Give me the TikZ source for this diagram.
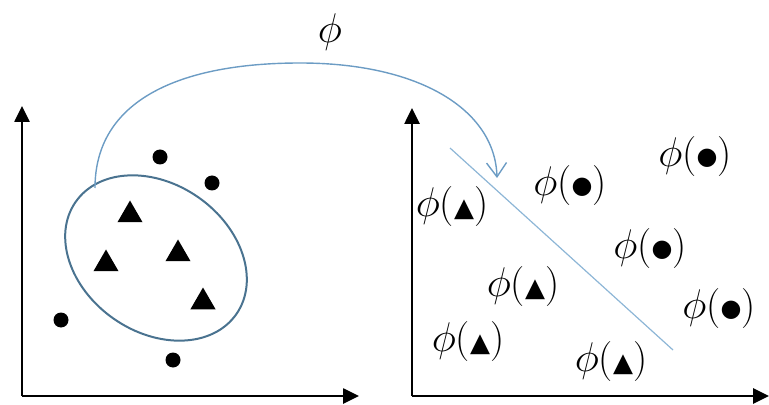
\documentclass[tikz,border=0pt]{standalone}
\usepackage{fontspec}
\newfontfamily\symfont{DejaVu Sans}
\usetikzlibrary{shapes.geometric, arrows.meta}
\definecolor{ringblue}{HTML}{4A7390}
\definecolor{mapblue}{HTML}{6C9CC4}
\definecolor{sepblue}{HTML}{8DB6D6}
\newcommand{\phitri}{$\phi$({\symfont\fontsize{13}{13}\selectfont ▲})}
\newcommand{\phidot}{$\phi$(\raisebox{1.2pt}{\symfont\fontsize{12}{12}\selectfont ●})}
\tikzset{
	axisline/.style={
			line width=1.3pt,
			-{Triangle[length=8pt,width=7.5pt]}
		},
	ptdot/.style={
			circle,
			fill=black,
			minimum size=7.5pt,
			inner sep=0pt
		},
	pttri/.style={
			regular polygon,
			regular polygon sides=3,
			fill=black,
			minimum size=14.5pt,
			inner sep=0pt
		},
	cluster/.style={
			ellipse,
			draw=ringblue,
			line width=1pt,
			minimum width=98pt,
			minimum height=74pt,
			inner sep=0pt,
			rotate=-35
		},
	maparrow/.style={
			draw=mapblue,
			line width=0.7pt,
			-{Straight Barb[length=7pt,width=10pt]}
		},
	sepline/.style={
			draw=sepblue,
			line width=0.6pt
		},
	imagelabel/.style={
			inner sep=0pt,
			font=\fontsize{20}{24}\selectfont
		}
}

\begin{document}
\begin{tikzpicture}[x=0.5pt,y=-0.5pt]
\useasboundingbox (0,0) rectangle (769,405);

\coordinate (lO) at (22,396);
\coordinate (lY) at (22,106);
\coordinate (lX) at (359,396);
\coordinate (rO) at (412,396);
\coordinate (rY) at (412,108);
\coordinate (rX) at (769,396);

\draw[axisline] (lO) -- (lY);
\draw[axisline] (lO) -- (lX);
\draw[axisline] (rO) -- (rY);
\draw[axisline] (rO) -- (rX);

\node[cluster] (ring) at (156,258) {};

\node[ptdot] (d1) at (160,157) {};
\node[ptdot] (d2) at (212,183) {};
\node[ptdot] (d3) at (61,320) {};
\node[ptdot] (d4) at (173,360) {};

\node[pttri] (t1) at (130,215) {};
\node[pttri] (t2) at (106,264) {};
\node[pttri] (t3) at (178,254) {};
\node[pttri] (t4) at (203,302) {};

\coordinate (mapstart) at (95,188);
\coordinate (maptop) at (300,63);
\coordinate (mapend) at (497,178);
\draw[maparrow] (mapstart) .. controls (95,100) and (180,63) .. (maptop)
	.. controls (420,63) and (495,110) .. (mapend);
\node[imagelabel] (maplabel) at (330,32) {$\phi$};

\coordinate (sepA) at (450,148);
\coordinate (sepB) at (673,350);
\draw[sepline] (sepA) -- (sepB);

\node[imagelabel] (ft1) at (452,207) {\phitri};
\node[imagelabel] (ft2) at (523,287) {\phitri};
\node[imagelabel] (ft3) at (468,342) {\phitri};
\node[imagelabel] (ft4) at (611,362) {\phitri};
\node[imagelabel] (fd1) at (570,186) {\phidot};
\node[imagelabel] (fd2) at (695,157) {\phidot};
\node[imagelabel] (fd3) at (650,249) {\phidot};
\node[imagelabel] (fd4) at (719,309) {\phidot};

\end{tikzpicture}
\end{document}
